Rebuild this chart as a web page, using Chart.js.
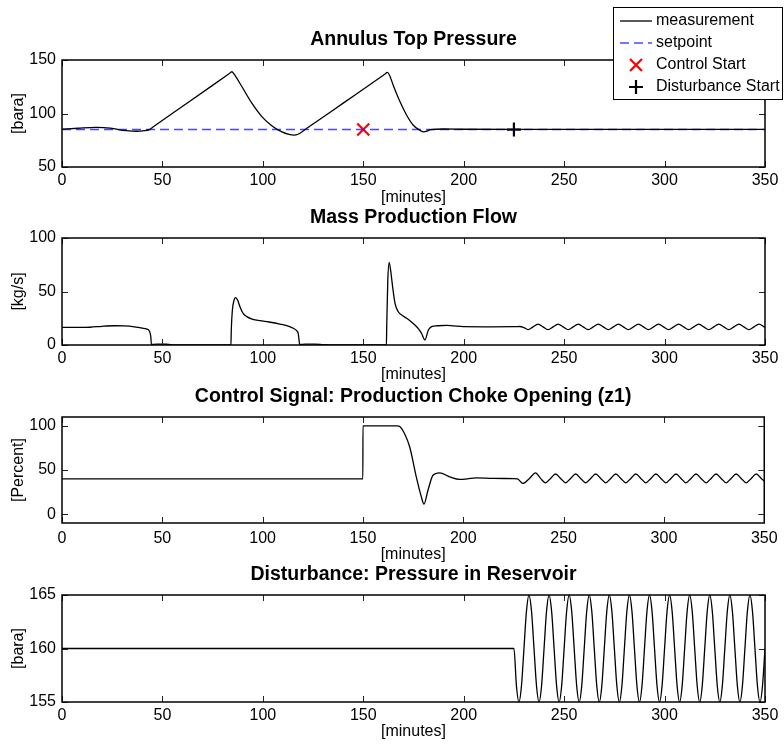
<!DOCTYPE html>
<html>
<head>
<meta charset="utf-8">
<title>Annulus Top Pressure control</title>
<script src="https://cdn.jsdelivr.net/npm/chart.js@4.4.1/dist/chart.umd.min.js"></script>
<style>
  html, body { margin: 0; padding: 0; background: #fff; }
  #wrap { position: relative; width: 784px; height: 744px; overflow: hidden; }
  canvas { position: absolute; left: 0; }
</style>
</head>
<body>
<div id="wrap">
  <canvas id="c1"></canvas>
  <canvas id="c2"></canvas>
  <canvas id="c3"></canvas>
  <canvas id="c4"></canvas>
</div>
<script>
"use strict"

// TIME AXIS (minutes)
const minuteTicks = [0, 50, 100, 150, 200, 250, 300, 350];

// ANNULUS TOP PRESSURE [bara]
const pressureTicks = [50, 100, 150];
const pressureT = [0, 8, 17, 24, 28, 32, 37, 41, 43.5, 46, 64, 83, 84.6, 85.5, 89.6, 94.6, 99.6, 104.6, 109.5,
    113, 115.5, 117.5, 121, 140, 160.5, 162, 163, 164.9, 168.3, 171.6, 174.9, 178.2, 180, 181.8, 183.5, 190, 200, 225, 350];
const pressureV = [85.3, 86.2, 87, 86.3, 85, 84, 83.4, 83.9, 85, 88.3, 111.9, 136.9, 139, 137.2, 125, 109.4, 96.9, 88.4, 82.8,
    80.5, 79.8, 80.6, 85, 109.7, 136.4, 138.4, 136, 126.5, 110.9, 98.4, 89, 84.3, 82.8, 83.6, 85, 85.5, 85.3, 85.2, 85.2];
const setpointT = [0, 350];
const setpointV = [85, 85];
const controlStartT = [150];
const controlStartV = [85];
const disturbanceStartT = [225];
const disturbanceStartV = [85];

// MASS PRODUCTION FLOW [kg/s]
const flowTicks = [0, 50, 100];
const flowT = [0, 8, 14, 20, 26, 31, 36, 40, 42, 43.5, 44.2, 44.5, 47, 52, 56, 60,
    84.1, 84.3, 84.8, 85.6, 86.5, 87.5, 88.6, 90, 92, 95, 98.6, 103, 108.5, 113, 115.2, 116.8, 117.6, 118, 118.3,
    121, 126, 130, 134, 161.5, 161.7, 162.2, 162.9, 163.6, 164.6, 165.8, 167.4, 169.5, 171.6, 173.7, 175.7, 177.5,
    179, 180.7, 182.4, 184, 187, 191.5, 195, 199.8, 210, 225, 228, 230,
    232, 234.5, 237, 239.5, 242, 244.5, 247, 249.5, 252, 254.5, 257, 259.5,
    262, 264.5, 267, 269.5, 272, 274.5, 277, 279.5, 282, 284.5, 287, 289.5,
    292, 294.5, 297, 299.5, 302, 304.5, 307, 309.5, 312, 314.5, 317, 319.5,
    322, 324.5, 327, 329.5, 332, 334.5, 337, 339.5, 342, 344.5, 347, 349.5, 350];
const flowV = [16.5, 16.4, 16.6, 17.5, 18, 17.8, 17, 15.8, 15, 13, 8, 0.5, 0.8, 0.7, 0.2, 0,
    0, 15, 32, 41.5, 44.2, 41.5, 35.8, 30, 26.5, 24, 22.7, 21.5, 19.6, 17.5, 15.6, 13.5, 10.9, 5, 0.5,
    0.8, 0.9, 0.4, 0, 0, 20, 60, 77.3, 70, 54.5, 39, 31.1, 27.5, 25, 22, 18.7, 15,
    10.9, 4.7, 14, 17.1, 18, 18.4, 17.8, 17.1, 17, 17.1, 17.3, 16.2,
    14.4, 17, 19.6, 17, 14.4, 17, 19.6, 17, 14.4, 17, 19.6, 17,
    14.4, 17, 19.6, 17, 14.4, 17, 19.6, 17, 14.4, 17, 19.6, 17,
    14.4, 17, 19.6, 17, 14.4, 17, 19.6, 17, 14.4, 17, 19.6, 17,
    14.4, 17, 19.6, 17, 14.4, 17, 19.6, 17, 14.4, 17, 19.6, 17, 16.6];

// CONTROL SIGNAL: PRODUCTION CHOKE OPENING [Percent]
const chokeTicks = [0, 50, 100];
const chokeT = [0, 149.95, 150, 167, 168.5, 170.7, 173.3, 176.6, 179.1, 180.4, 182.4, 184.9, 188.2, 193.2, 198.2,
    202, 206.4, 215, 225, 227, 229.7, 233, 236, 238.5,
    241, 243.5, 246, 248.5, 251, 253.5, 256, 258.5, 261, 263.5, 266, 268.5,
    271, 273.5, 276, 278.5, 281, 283.5, 286, 288.5, 291, 293.5, 296, 298.5,
    301, 303.5, 306, 308.5, 311, 313.5, 316, 318.5, 321, 323.5, 326, 328.5,
    331, 333.5, 336, 338.5, 341, 343.5, 346, 348.5, 350];
const chokeV = [40, 40, 100, 100, 99, 91.3, 76, 42, 19.6, 11.3, 27, 44, 46.8, 42.3, 39.3,
    40, 41.1, 40.5, 40.3, 40, 34.8, 40.5, 46.8, 40.5,
    35.5, 40.5, 45.5, 40.5, 35.5, 40.5, 45.5, 40.5, 35.5, 40.5, 45.5, 40.5,
    35.5, 40.5, 45.5, 40.5, 35.5, 40.5, 45.5, 40.5, 35.5, 40.5, 45.5, 40.5,
    35.5, 40.5, 45.5, 40.5, 35.5, 40.5, 45.5, 40.5, 35.5, 40.5, 45.5, 40.5,
    35.5, 40.5, 45.5, 40.5, 35.5, 40.5, 45.5, 40.5, 37.5];

// DISTURBANCE: PRESSURE IN RESERVOIR [bara]
const reservoirTicks = [155, 160, 165];
const reservoirT = [0,
    225, 226.25, 227.5, 228.75, 230, 231.25, 232.5, 233.75,
    235, 236.25, 237.5, 238.75, 240, 241.25, 242.5, 243.75,
    245, 246.25, 247.5, 248.75, 250, 251.25, 252.5, 253.75,
    255, 256.25, 257.5, 258.75, 260, 261.25, 262.5, 263.75,
    265, 266.25, 267.5, 268.75, 270, 271.25, 272.5, 273.75,
    275, 276.25, 277.5, 278.75, 280, 281.25, 282.5, 283.75,
    285, 286.25, 287.5, 288.75, 290, 291.25, 292.5, 293.75,
    295, 296.25, 297.5, 298.75, 300, 301.25, 302.5, 303.75,
    305, 306.25, 307.5, 308.75, 310, 311.25, 312.5, 313.75,
    315, 316.25, 317.5, 318.75, 320, 321.25, 322.5, 323.75,
    325, 326.25, 327.5, 328.75, 330, 331.25, 332.5, 333.75,
    335, 336.25, 337.5, 338.75, 340, 341.25, 342.5, 343.75,
    345, 346.25, 347.5, 348.75, 350];
const reservoirV = [160,
    160, 156.5, 155, 156.5, 160, 163.5, 165, 163.5,
    160, 156.5, 155, 156.5, 160, 163.5, 165, 163.5,
    160, 156.5, 155, 156.5, 160, 163.5, 165, 163.5,
    160, 156.5, 155, 156.5, 160, 163.5, 165, 163.5,
    160, 156.5, 155, 156.5, 160, 163.5, 165, 163.5,
    160, 156.5, 155, 156.5, 160, 163.5, 165, 163.5,
    160, 156.5, 155, 156.5, 160, 163.5, 165, 163.5,
    160, 156.5, 155, 156.5, 160, 163.5, 165, 163.5,
    160, 156.5, 155, 156.5, 160, 163.5, 165, 163.5,
    160, 156.5, 155, 156.5, 160, 163.5, 165, 163.5,
    160, 156.5, 155, 156.5, 160, 163.5, 165, 163.5,
    160, 156.5, 155, 156.5, 160, 163.5, 165, 163.5,
    160, 156.5, 155, 156.5, 160];

// =========================================

Chart.defaults.font.family = '"Liberation Sans", Arial, Helvetica, sans-serif';
Chart.defaults.font.size = 16;
Chart.defaults.color = '#000';

const FONT = '"Liberation Sans", Arial, Helvetica, sans-serif';
const TITLE_SIZE = 19.5;

function series(ts, vs) {
    return ts.map((t, i) => ({ x: t, y: vs[i] }));
}

function lineSet(label, ts, vs) {
    return {
        label: label,
        data: series(ts, vs),
        borderColor: '#000',
        borderWidth: 1.3,
        pointRadius: 0,
        cubicInterpolationMode: 'monotone'
    };
}

// matlab style box with ticks pointing inwards
const axesBox = {
    id: 'axesBox',
    afterDatasetsDraw(chart) {
        const { ctx, chartArea: a, scales: { x, y } } = chart;
        ctx.save();
        ctx.strokeStyle = '#222';
        ctx.lineWidth = 1;
        ctx.beginPath();
        x.ticks.forEach(t => {
            const px = Math.round(x.getPixelForValue(t.value)) + 0.5;
            ctx.moveTo(px, a.bottom); ctx.lineTo(px, a.bottom - 6);
            ctx.moveTo(px, a.top); ctx.lineTo(px, a.top + 6);
        });
        y.ticks.forEach(t => {
            const py = Math.round(y.getPixelForValue(t.value)) + 0.5;
            ctx.moveTo(a.left, py); ctx.lineTo(a.left + 6, py);
            ctx.moveTo(a.right, py); ctx.lineTo(a.right - 6, py);
        });
        ctx.stroke();
        ctx.strokeStyle = '#000';
        ctx.lineWidth = 1.5;
        ctx.strokeRect(a.left, a.top, a.right - a.left, a.bottom - a.top);
        ctx.restore();
    }
};

// legend box of the top panel, drawn from its datasets
const legendBox = {
    id: 'legendBox',
    afterDraw(chart) {
        const ctx = chart.ctx;
        ctx.save();
        ctx.fillStyle = '#fff';
        ctx.fillRect(613, 7, 170, 92);
        ctx.strokeStyle = '#000';
        ctx.lineWidth = 1;
        ctx.strokeRect(613.5, 7.5, 169, 92);
        chart.data.datasets.forEach((ds, i) => {
            const yy = 21 + i * 22;
            ctx.strokeStyle = ds.borderColor;
            if (ds.showLine === false) {
                ctx.strokeStyle = ds.pointBorderColor;
                ctx.lineWidth = ds.pointBorderWidth;
                const r = ds.pointRadius;
                ctx.beginPath();
                if (ds.pointStyle === 'crossRot') {
                    const d = r * Math.SQRT1_2;
                    ctx.moveTo(636 - d, yy - d); ctx.lineTo(636 + d, yy + d);
                    ctx.moveTo(636 + d, yy - d); ctx.lineTo(636 - d, yy + d);
                } else {
                    ctx.moveTo(636 - r, yy); ctx.lineTo(636 + r, yy);
                    ctx.moveTo(636, yy - r); ctx.lineTo(636, yy + r);
                }
                ctx.stroke();
            } else {
                ctx.lineWidth = ds.borderWidth;
                ctx.setLineDash(ds.borderDash || []);
                ctx.beginPath();
                ctx.moveTo(620, yy); ctx.lineTo(652, yy);
                ctx.stroke();
                ctx.setLineDash([]);
            }
            ctx.fillStyle = '#000';
            ctx.font = '16px ' + FONT;
            ctx.textBaseline = 'middle';
            ctx.fillText(ds.label, 656, yy);
        });
        ctx.restore();
    }
};

// page positions of each panel (title, plot box, tick labels, axis label)
const layouts = [
    { top: 0, titleY: 39.5, areaTop: 60, areaBottom: 167, tickY: 180.5, labelY: 197.5, bottom: 210 },
    { top: 193, titleY: 218, areaTop: 238, areaBottom: 345, tickY: 359, labelY: 374.5, bottom: 387 },
    { top: 371, titleY: 396.5, areaTop: 417, areaBottom: 523, tickY: 539, labelY: 554.5, bottom: 567 },
    { top: 550, titleY: 575, areaTop: 595, areaBottom: 702, tickY: 715.5, labelY: 731.5, bottom: 744 }
];

function makePanel(id, lay, title, yLabel, yMin, yMax, yTicks, datasets, extra) {
    const canvas = document.getElementById(id);
    canvas.width = 784;
    canvas.height = lay.bottom - lay.top;
    canvas.style.top = lay.top + 'px';

    const titleLine = TITLE_SIZE * 1.2;
    const padTop = lay.titleY - lay.top - titleLine / 2;
    const padBottom = lay.areaTop - lay.top - padTop - titleLine;

    return new Chart(canvas, {
        type: 'line',
        data: { datasets: datasets },
        options: {
            responsive: false,
            animation: false,
            events: [],
            layout: { padding: { left: 0, right: 19, top: 0, bottom: 0 } },
            plugins: {
                legend: { display: false },
                tooltip: { enabled: false },
                title: {
                    display: true,
                    fullSize: false,
                    text: title,
                    color: '#000',
                    font: { size: TITLE_SIZE, weight: 'bold' },
                    padding: { top: padTop, bottom: padBottom }
                }
            },
            scales: {
                x: {
                    type: 'linear',
                    min: 0,
                    max: 350,
                    grid: { display: false, drawTicks: false },
                    border: { display: false },
                    ticks: { padding: lay.tickY - lay.areaBottom - 9.6, maxRotation: 0, autoSkip: false },
                    title: { display: true, text: '[minutes]', padding: { top: 0, bottom: lay.bottom - lay.labelY - 9.6 } },
                    afterBuildTicks: s => { s.ticks = minuteTicks.map(v => ({ value: v })); },
                    afterFit: s => { s.height = lay.bottom - lay.areaBottom; }
                },
                y: {
                    type: 'linear',
                    min: yMin,
                    max: yMax,
                    grid: { display: false, drawTicks: false },
                    border: { display: false },
                    ticks: { padding: 6, autoSkip: false },
                    title: { display: true, text: yLabel, padding: { top: 9, bottom: 0 } },
                    afterBuildTicks: s => { s.ticks = yTicks.map(v => ({ value: v })); },
                    afterFit: s => { s.width = 62; }
                }
            }
        },
        plugins: [axesBox].concat(extra || [])
    });
}

// TOP PANEL
const measurement = lineSet('measurement', pressureT, pressureV);
const setpoint = {
    label: 'setpoint',
    data: series(setpointT, setpointV),
    borderColor: 'rgba(40, 40, 255, 0.85)',
    borderWidth: 1.5,
    borderDash: [9, 5],
    pointRadius: 0
};
const controlStart = {
    label: 'Control Start',
    data: series(controlStartT, controlStartV),
    showLine: false,
    pointStyle: 'crossRot',
    pointRadius: 8.5,
    pointBorderWidth: 2.2,
    pointBorderColor: '#ff0000',
    borderColor: '#ff0000'
};
const disturbanceStart = {
    label: 'Disturbance Start',
    data: series(disturbanceStartT, disturbanceStartV),
    showLine: false,
    pointStyle: 'cross',
    pointRadius: 7,
    pointBorderWidth: 2.2,
    pointBorderColor: '#000',
    borderColor: '#000'
};

makePanel('c1', layouts[0], 'Annulus Top Pressure', '[bara]', 50, 150, pressureTicks,
    [measurement, setpoint, controlStart, disturbanceStart], [legendBox]);

makePanel('c2', layouts[1], 'Mass Production Flow', '[kg/s]', 0, 100, flowTicks,
    [lineSet('flow', flowT, flowV)]);

makePanel('c3', layouts[2], 'Control Signal: Production Choke Opening (z1)', '[Percent]', -10, 110, chokeTicks,
    [lineSet('z1', chokeT, chokeV)]);

makePanel('c4', layouts[3], 'Disturbance: Pressure in Reservoir', '[bara]', 155, 165, reservoirTicks,
    [lineSet('reservoir', reservoirT, reservoirV)]);
</script>
</body>
</html>
